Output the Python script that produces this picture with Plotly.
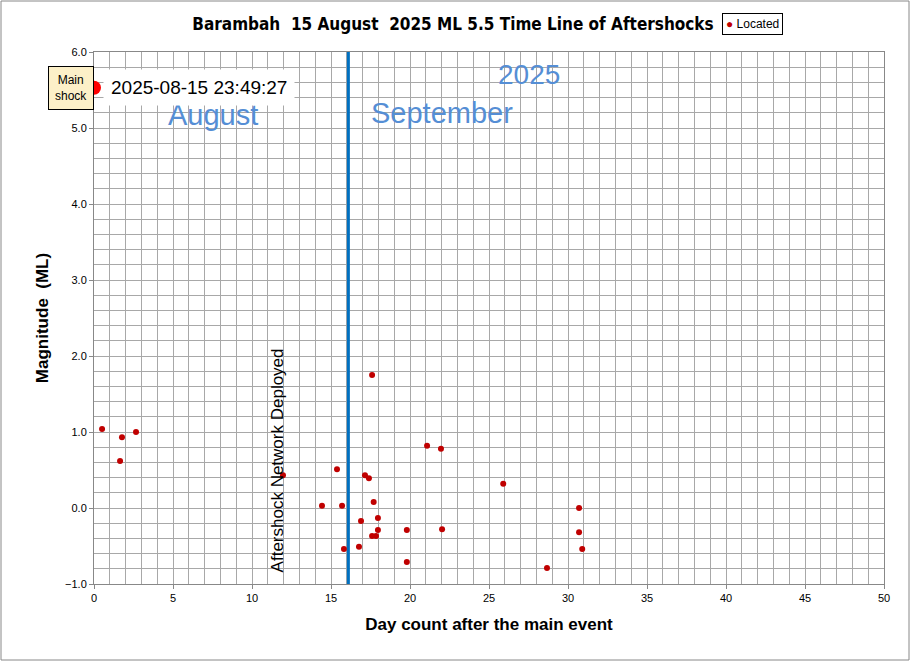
import plotly.graph_objects as go

days = [0.51,1.77,1.65,2.66,11.96,14.43,15.38,15.7,15.82,16.77,16.9,17.15,17.4,17.6,17.7,17.6,17.85,17.97,17.97,19.8,19.8,21.08,21.96,22.03,25.9,28.67,30.7,30.7,30.9]
mags = [1.04,0.93,0.62,1.0,0.43,0.03,0.51,0.03,-0.54,-0.51,-0.17,0.43,0.39,1.75,0.08,-0.37,-0.37,-0.29,-0.13,-0.29,-0.71,0.82,0.78,-0.28,0.32,-0.79,0.0,-0.32,-0.54]
main_day = [0.0]
main_mag = [5.53]
sept_day = 16.1

W, H = 790, 532
fig = go.Figure()
fig.add_trace(go.Scatter(x=days, y=mags, mode="markers", name="Located", showlegend=False,
    marker=dict(color="#C00000", size=6)))
fig.add_shape(type="line", x0=sept_day, x1=sept_day, y0=-1, y1=6, line=dict(color="#0070C0", width=3))
fig.add_shape(type="rect", xref="paper", yref="paper", x0=-93/W, x1=1+25/W, y0=-76/H, y1=1+51/H,
    line=dict(color="#888888", width=1))
blue = "#558ED5"
nf = "Liberation Sans Narrow, Liberation Sans"
fig.add_annotation(x=27.5, y=5.7, text="2025", showarrow=False, font=dict(size=28, color=blue, family=nf))
fig.add_annotation(x=22, y=5.2, text="September", showarrow=False, font=dict(size=29, color=blue, family=nf))
fig.add_annotation(x=7.5, y=5.17, text="August", showarrow=False, font=dict(size=29, color=blue, family=nf))
fig.add_annotation(x=0.55, y=5.53, text="2025-08-15 23:49:27", showarrow=False, xanchor="left",
    bgcolor="white", borderpad=7, font=dict(size=19, color="black", family="Liberation Sans"))
fig.add_annotation(x=-0.058, xref="paper", y=5.53, text="Main<br>shock", showarrow=False,
    bgcolor="#FCF0C8", bordercolor="black", borderwidth=1, borderpad=6, font=dict(size=12, color="black", family="Liberation Sans"))
fig.add_annotation(x=11.6, y=0.63, text="Aftershock Network Deployed", textangle=-90, showarrow=False,
    font=dict(size=17, color="black", family="Liberation Sans"))
fig.add_annotation(x=(752-94)/W, xref="paper", y=1+28/H, yref="paper", showarrow=False,
    xanchor="center", yanchor="middle",
    text="<span style='color:#C00000'>●</span> Located", bgcolor="white", bordercolor="black", borderwidth=1,
    borderpad=3, font=dict(size=12, color="black", family="Liberation Sans"))
fig.add_trace(go.Scatter(x=main_day, y=main_mag, mode="markers", showlegend=False,
    marker=dict(color="#FF0000", size=14), cliponaxis=False))

g = "#A8A8A8"
fig.update_layout(
    width=911, height=662, paper_bgcolor="white", plot_bgcolor="white",
    margin=dict(l=94, r=27, t=52, b=78, autoexpand=False), showlegend=False,
    font=dict(family="Liberation Sans", color="black", size=11),
    title=dict(text="<b>Barambah  15 August  2025 ML 5.5 Time Line of Aftershocks</b>", x=453/911, xanchor="center", y=1-24/662, yanchor="middle", font=dict(size=17, family="DejaVu Sans Condensed, DejaVu Sans")),
    xaxis=dict(range=[0, 50], tickvals=list(range(0, 51, 5)), showgrid=True, gridcolor=g, automargin=False,
        minor=dict(dtick=1, showgrid=True, gridcolor=g), linecolor="#888", mirror=True,
        ticks="outside", ticklen=4, tickcolor="#888", zeroline=False,
        title=dict(text="<b>Day count after the main event</b>", font=dict(size=17), standoff=14)),
    yaxis=dict(range=[-1, 6], dtick=1, tickformat=".1f", showgrid=True, gridcolor=g, automargin=False,
        minor=dict(dtick=0.2, showgrid=True, gridcolor=g), linecolor="#888", mirror=True,
        ticks="outside", ticklen=4, tickcolor="#888", zeroline=False,
        title=dict(text="<b>Magnitude  (ML)</b>", font=dict(size=17), standoff=12)),
)
fig.write_html("out.html", config={"displayModeBar": False})
with open("out.html", encoding="utf-8") as f:
    html = f.read()
html = html.replace("<body>", '<body style="margin:0">', 1)
with open("out.html", "w", encoding="utf-8") as f:
    f.write(html)
